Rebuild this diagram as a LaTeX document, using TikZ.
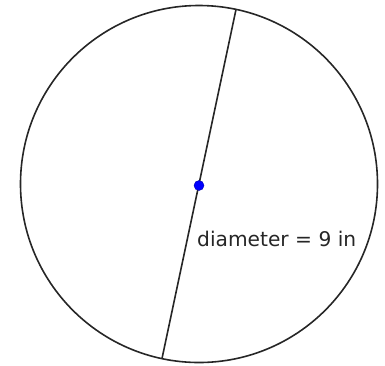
\documentclass[tikz,border=0pt]{standalone}
\usepackage{fontspec}
\setmainfont{DejaVu Sans}
\usetikzlibrary{calc}
\begin{document}
\begin{tikzpicture}[x=1pt,y=-1pt,
  outline/.style={draw=black!85,line width=1.6pt},
  centredot/.style={circle,fill=blue,draw=blue!70!black,line width=0.4pt,inner sep=0pt,minimum size=10pt},
  lbl/.style={font=\fontsize{20.2}{23}\selectfont,text=black!85,inner sep=0pt,anchor=base west}]
\useasboundingbox (0,0) rectangle (385,365);
\coordinate (c) at (199,184);
\draw[outline] (c) circle (178.5);
\coordinate (top) at ($(c)+(37,-174.5)$);
\coordinate (bot) at ($(c)+(-37,174.5)$);
\draw[outline] (top) -- (bot);
\node[centredot] (dot) at (199,185.5) {};
\node[lbl] (label) at (197,246) {diameter = 9 in};
\end{tikzpicture}
\end{document}
